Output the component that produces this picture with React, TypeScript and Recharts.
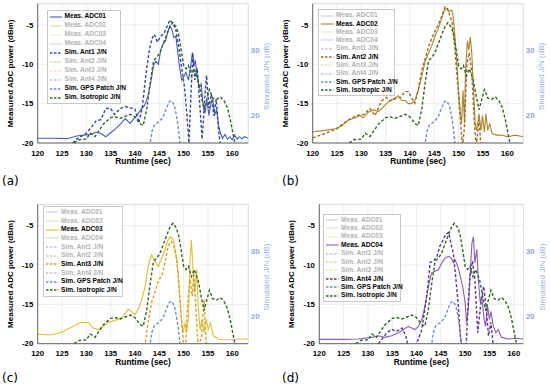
import React from 'react';
import { ComposedChart, Line, XAxis, YAxis, CartesianGrid, ReferenceLine } from 'recharts';

type Pt = [number, number];

// runtime (sec) ticks and axis ticks
const runtimeTicks = [120, 125, 130, 135, 140, 145, 150, 155, 160];
const powerTicks = [-20, -15, -10, -5];
const jnTicks = [20, 30];

// measured ADC power (dBm), [runtime, value]
const adc01: Pt[] = [
    [120, -19.4], [123, -19.4], [126, -19.45], [127, -19.3], [128, -19.1], [129.5, -19.0], [131, -18.9],
    [132, -18.6], [133, -18.8], [134, -19.2], [135, -18.7], [136, -18.2], [137, -17.6], [138, -16.9],
    [139, -17.5], [139.8, -16.9], [140.5, -16.4], [141.2, -15.8], [142, -15.2], [142.6, -14.2], [143.2, -12.5],
    [143.8, -10.2], [144.3, -9.6], [144.8, -10], [145.3, -8.2], [145.8, -7.4], [146.3, -7], [146.8, -5.8],
    [147.2, -5.1], [147.6, -5.6], [148, -6.6], [148.4, -6.4], [148.8, -8.5], [149.2, -10.5], [149.6, -12],
    [150, -11.6], [150.5, -11], [151, -12], [151.4, -10.5], [151.8, -8.5], [152.1, -10.2], [152.4, -9.5],
    [152.8, -11.5], [153.2, -13], [153.6, -12.5], [154, -15], [154.4, -16.2], [154.8, -14.6], [155.2, -16.5],
    [155.6, -15], [156, -14.5], [156.4, -16.4], [156.8, -15.8], [157.2, -17.8], [157.6, -18.8], [158, -19.4],
    [158.5, -18.9], [159, -19.5], [159.5, -19.2], [160, -19.6], [160.5, -19.0], [161, -19.5], [161.5, -19.2],
    [162, -19.5], [162.5, -19.2], [163.3, -19.4],
];
const adc02: Pt[] = [
    [120, -18.6], [122.5, -18.4], [124.6, -18.2], [126, -17.8], [127.3, -17.1], [128.7, -16.8], [129.7, -16.5],
    [130.4, -16.8], [131.4, -16.1], [132.5, -15.8], [133.5, -16], [134.5, -15.4], [135.5, -14.8], [136.6, -14.4],
    [137.6, -14], [138.3, -14.6], [139, -14.6], [139.7, -15], [140.3, -15], [141, -14.6], [141.7, -13.3],
    [142.4, -11.6], [143.1, -9.7], [143.8, -8.6], [144.5, -7.6], [145.1, -6.5], [145.8, -5.5], [146.5, -4.2],
    [147.1, -3.1], [147.5, -2.9], [148, -3.3], [148.6, -3.1], [148.9, -4], [149.2, -6.1], [149.6, -9.5],
    [149.9, -12.5], [150.3, -15.8], [150.6, -17.5], [150.9, -13.3], [151.2, -17.5], [151.4, -11.2], [151.8, -7],
    [152.1, -8.2], [152.4, -6.5], [152.7, -8.6], [153, -12], [153.4, -17.5], [153.7, -18.4], [154.2, -16.3],
    [154.6, -18.4], [154.9, -16.5], [155.3, -18.6], [155.6, -16.3], [156, -18.4], [156.4, -17.5], [156.9, -18.8],
    [157.8, -19], [158.8, -19], [160.2, -19.2], [161.6, -19], [163.3, -19.2],
];
const adc03: Pt[] = [
    [120, -18.8], [122.5, -18.9], [124.6, -18.6], [126, -18.2], [127.3, -17.8], [128.7, -17.3], [129.7, -17.3],
    [130.4, -17.3], [131.4, -18], [132.5, -18.2], [133.5, -17.8], [134.5, -17.3], [135.5, -17.1], [136.6, -16.9],
    [137.6, -16.5], [138.6, -15.6], [139.3, -15.9], [140, -16.3], [140.7, -15.6], [141.4, -14.4], [142.1, -12.7],
    [142.7, -10.2], [143.4, -8.7], [144.1, -9.5], [144.8, -10.2], [145.5, -9.1], [146.2, -8], [146.8, -6.8],
    [147.3, -6.4], [147.9, -6.8], [148.4, -8.5], [148.9, -11], [149.2, -14], [149.6, -17.3], [149.9, -18.6],
    [150.3, -17.3], [150.6, -18.6], [151, -16.5], [151.3, -9.7], [151.6, -6.8], [152, -11.4], [152.3, -13.5],
    [152.7, -10.6], [153, -15.2], [153.4, -18.2], [153.8, -16.9], [154.2, -18.6], [154.6, -16.9], [155.1, -18.2],
    [155.5, -17.3], [156.1, -19], [157.1, -19.4], [158.2, -19.5], [160, -19.5], [161.5, -19.4], [163.3, -19.4],
];
const adc04: Pt[] = [
    [120, -19.45], [124.6, -19.45], [128, -19.4], [130.8, -19.2], [132.1, -19], [133.5, -19.2], [134.9, -19],
    [136.3, -18.6], [137.3, -18.2], [138.3, -17.8], [139, -18], [139.7, -18.2], [140.4, -17.8], [141.1, -16.9],
    [141.6, -15.6], [142.1, -14], [142.6, -12.3], [143.1, -11], [143.8, -10.8], [144.5, -10.6], [145.2, -9.7],
    [145.9, -9.1], [146.6, -8.9], [147.1, -9.1], [147.6, -9.7], [147.9, -9.3], [148.5, -10.2], [149, -11.4],
    [149.5, -12.8], [150, -14.8], [150.3, -17.3], [150.7, -15.2], [151, -11.4], [151.4, -7.2], [151.7, -6.4],
    [152, -9.7], [152.4, -8], [152.7, -11.8], [153.1, -14.8], [153.4, -14], [153.9, -16.9], [154.2, -17.8],
    [154.6, -15.2], [155, -16.9], [155.3, -15.9], [155.8, -17.8], [156.3, -18.6], [156.8, -18.2], [157.5, -19.2],
    [158.9, -19.4], [160.3, -19.3], [162, -19.4],
];

// simulated J/N (dB), [runtime, value]
const simAnt1: Pt[] = [
    [126.5, 15.2], [128, 16.4], [130, 17.3], [131, 18.2], [132, 19.2], [133, 19.4], [134, 21.1], [135, 21.1],
    [135.8, 20.2], [137, 21.1], [138, 21.4], [139, 21.2], [140, 21.0], [140.8, 18.9], [141.5, 21.2], [142.3, 26.7],
    [143, 30.3], [143.6, 32.0], [144, 32.5], [144.6, 31.3], [145.2, 32.1], [146, 32.7], [146.6, 33.7], [147.2, 34.7],
    [147.8, 34.2], [148.4, 33.2], [149, 30.6], [149.6, 27.3], [150.2, 24.3], [150.7, 20.0], [151.1, 15.8],
    [151.5, 23.1], [151.9, 29.6], [152.3, 25.5], [152.8, 27.3], [153.3, 21.9], [153.8, 16.4], [154.3, 21.9],
    [154.7, 26.2], [155.2, 21.2], [155.7, 23.3], [156.2, 20.0], [156.7, 22.5], [157.2, 17.6], [157.6, 15.2],
];
const simAnt2: Pt[] = [
    [120, 16.6], [122, 17.1], [125, 18.0], [127, 19.2], [129, 20.0], [130.5, 20.2], [131.8, 21.1], [132.8, 20.0],
    [134.2, 22.3], [135.2, 22.8], [135.9, 22.3], [137, 22.6], [138, 22.8], [139, 23.7], [139.7, 23.7], [140.3, 22.8],
    [141, 21.9], [141.7, 23.9], [142.4, 26.9], [143.1, 28.7], [143.8, 30.6], [144.5, 31.9], [145.1, 32.9],
    [145.8, 33.95], [146.5, 35.2], [147.2, 36.7], [147.7, 36.5], [148.2, 35.4], [148.7, 34.2], [149.2, 30.6],
    [149.8, 24.9], [150.3, 19.8], [150.8, 15.2], [151.2, 18.2], [151.7, 27.9], [152.2, 29.7], [152.7, 26.7],
    [153.2, 19.4], [153.6, 15.2], [154.2, 19.4], [154.6, 15.2],
];
const simAnt3: Pt[] = [
    [142, 15.2], [142.7, 19.1], [143.4, 22.1], [144.1, 23.7], [144.8, 25.5], [145.5, 26.2], [146.2, 28.3],
    [146.8, 30.8], [147.5, 31.5], [148, 30.8], [148.6, 28.7], [149.1, 24.1], [149.6, 19.1], [150, 15.2],
    [150.4, 15.2], [150.8, 21.6], [151.3, 25.7], [151.8, 23.1], [152.1, 26.7], [152.5, 21.6], [153, 15.2],
    [153.7, 17.0], [154.2, 22.6], [154.7, 15.2],
];
const simAnt4: Pt[] = [
    [131.5, 15.2], [132.8, 16.4], [133.9, 17.5], [134.9, 18.0], [135.9, 17.7], [137, 18.2], [137.8, 17.0],
    [138.3, 15.2], [139.7, 15.2], [141.1, 18.0], [141.8, 21.6], [142.4, 25.1], [142.8, 28.3], [143.5, 28.5],
    [144.2, 29.2], [144.8, 30.8], [145.5, 31.8], [146, 32.6], [146.6, 32.9], [147, 31.5], [147.6, 29.5],
    [148.1, 25.7], [148.6, 21.6], [149, 17.0], [149.3, 15.2], [150.2, 15.2], [150.6, 21.9], [151, 26.2],
    [151.5, 28.5], [152, 25.7], [152.6, 17.5], [153.2, 21.9], [153.8, 24.6], [154.3, 21.6], [154.8, 17.0],
    [155.3, 19.1], [155.8, 15.2],
];
const simGps: Pt[] = [
    [143, 15.2], [143.5, 17.6], [144, 18.6], [145, 19.1], [145.8, 19.8], [146.4, 21.0], [147, 22.1],
    [147.5, 22.3], [148.1, 21.6], [148.6, 19.7], [149, 17.6], [149.3, 15.2],
];
const simIso: Pt[] = [
    [127.5, 15.8], [128.5, 16.3], [130, 16.4], [130.8, 17.3], [131.8, 16.8], [132.5, 17.6], [133.5, 18.7],
    [135, 19.7], [136, 19.8], [137, 19.6], [138, 19.9], [139, 20.2], [140, 19.8], [141, 18.8], [141.7, 18.5],
    [142.4, 20.9], [143.1, 24.9], [143.8, 28.4], [144.5, 29.0], [145.1, 29.6], [145.8, 31.0], [146.5, 32.4],
    [147.2, 33.7], [147.8, 34.3], [148.5, 33.6], [149, 32.4], [149.5, 30.1], [150, 27.7], [150.5, 27.2],
    [151, 27.7], [151.6, 26.1], [152.2, 27.2], [153, 25.5], [153.6, 23.1], [154.2, 20.9], [154.8, 22.6],
    [155.3, 24.0], [156, 22.7], [156.8, 22.5], [157.5, 22.9], [158.3, 22.3], [159, 21.2], [159.6, 19.4],
    [160.2, 17.1], [160.6, 15.6],
];

const pts = (arr: Pt[]) => arr.map(([t, v]) => ({ t, v }));

const series = [
    { key: 'adc01', name: 'Meas. ADC01', data: adc01, color: '#4a5cc0', dashed: false, axis: 'left' },
    { key: 'adc02', name: 'Meas. ADC02', data: adc02, color: '#b0832b', dashed: false, axis: 'left' },
    { key: 'adc03', name: 'Meas. ADC03', data: adc03, color: '#e2c02a', dashed: false, axis: 'left' },
    { key: 'adc04', name: 'Meas. ADC04', data: adc04, color: '#8c5bbf', dashed: false, axis: 'left' },
    { key: 'ant1', name: 'Sim. Ant1 J/N', data: simAnt1, color: '#3546a8', dashed: true, axis: 'right' },
    { key: 'ant2', name: 'Sim. Ant2 J/N', data: simAnt2, color: '#9c6e1e', dashed: true, axis: 'right' },
    { key: 'ant3', name: 'Sim. Ant3 J/N', data: simAnt3, color: '#e0a020', dashed: true, axis: 'right' },
    { key: 'ant4', name: 'Sim. Ant4 J/N', data: simAnt4, color: '#5e3596', dashed: true, axis: 'right' },
    { key: 'gps', name: 'Sim. GPS Patch J/N', data: simGps, color: '#6b8fcf', dashed: true, axis: 'right' },
    { key: 'iso', name: 'Sim. Isotropic J/N', data: simIso, color: '#2e6a1e', dashed: true, axis: 'right' },
];

const panels = [
    { tag: '(a)', x: 0, y: 0, active: ['adc01', 'ant1', 'gps', 'iso'], left: 37.7, top: 3.7, xh: 53, right: 26.7, xMax: 163.3,
        legend: { left: 46.7, top: 10, width: 74, row: 9 } },
    { tag: '(b)', x: 275, y: 0, active: ['adc02', 'ant2', 'gps', 'iso'], left: 37.7, top: 3.7, xh: 53, right: 26.7, xMax: 163.3,
        legend: { left: 43.3, top: 9.4, width: 77, row: 8.3 } },
    { tag: '(c)', x: 0, y: 196, active: ['adc03', 'ant3', 'gps', 'iso'], left: 37.7, top: 8.4, xh: 48.3, right: 26.7, xMax: 163.3,
        legend: { left: 43.3, top: 9.9, width: 80, row: 8.7 } },
    { tag: '(d)', x: 275, y: 196, active: ['adc04', 'ant4', 'gps', 'iso'], left: 44.3, top: 8.4, xh: 48.3, right: 26.5, xMax: 162,
        legend: { left: 48.3, top: 17.6, width: 78, row: 8.45 } },
];

const FONT = 'Arial, "Liberation Sans", sans-serif';
const tickStyle = { fill: '#000', fontSize: 7.8, fontWeight: 'bold', fontFamily: FONT };
const jnColor = '#8ea4e6';

const LegendBox = ({ active, box }: any) => (
    <div style={{
        position: 'absolute', left: box.left, top: box.top, width: box.width, boxSizing: 'border-box',
        border: '1px solid #c8c8c8', background: '#fff', padding: '1px 2px',
    }}>
        {series.map(s => {
            const on = active.includes(s.key);
            return (
                <div key={s.key} style={{ display: 'flex', alignItems: 'center', height: box.row }}>
                    <svg width={12.5} height={4} style={{ flex: 'none' }}>
                        <line x1={0} y1={2} x2={12.5} y2={2} stroke={s.color} strokeOpacity={on ? 1 : 0.3}
                            strokeWidth={s.dashed ? 1.4 : 1.1} strokeDasharray={s.dashed ? '2.5 1.5' : undefined} />
                    </svg>
                    <span style={{
                        marginLeft: 2.3, fontFamily: FONT, fontSize: 6.6, fontWeight: 'bold', lineHeight: 1,
                        color: on ? '#000' : '#b3b3b3', whiteSpace: 'nowrap',
                    }}>{s.name}</span>
                </div>
            );
        })}
    </div>
);

const Panel = ({ p }: any) => (
    <div style={{ position: 'absolute', left: p.x, top: p.y, width: 275, height: 196 }}>
        <ComposedChart width={275} height={196} margin={{ top: p.top, right: 0, bottom: 0, left: 0 }}>
            <CartesianGrid yAxisId="left" stroke="#e8e8e8" strokeWidth={0.8} />
            <XAxis dataKey="t" type="number" domain={[120, p.xMax]} ticks={runtimeTicks} interval={0}
                allowDataOverflow height={p.xh} tickSize={0} tickMargin={7}
                axisLine={{ stroke: '#404040', strokeWidth: 0.8 }} tick={tickStyle}
                label={{ value: 'Runtime (sec)', position: 'center', dy: 18.5 - p.xh / 2,
                    style: { fill: '#000', fontSize: 8.4, fontWeight: 'bold', fontFamily: FONT } }} />
            <YAxis yAxisId="left" orientation="left" type="number" width={p.left} domain={[-20, -2.3]}
                ticks={powerTicks} interval={0} allowDataOverflow tickSize={0} tickMargin={4.4}
                axisLine={{ stroke: '#404040', strokeWidth: 0.8 }} tick={tickStyle}
                label={{ value: 'Measured ADC power (dBm)', angle: -90, position: 'center', dx: p.left - 27.7 - p.left / 2,
                    style: { fill: '#000', fontSize: 8, fontWeight: 'bold', fontFamily: FONT } }} />
            <YAxis yAxisId="right" orientation="right" type="number" width={p.right} domain={[15.8, 37.2]}
                ticks={jnTicks} interval={0} allowDataOverflow tickSize={0} tickMargin={2.5}
                axisLine={{ stroke: '#d3dcf3', strokeWidth: 0.8 }}
                tick={{ fill: jnColor, fontSize: 7.8, fontWeight: 'bold', fontFamily: FONT }}
                label={{ value: 'Simulated J/N (dB)', angle: -90, position: 'center', dx: 5, dy: 3,
                    style: { fill: '#93b3ea', fontSize: 8, fontFamily: FONT } }} />
            <ReferenceLine yAxisId="left" y={-2.3} stroke="#d6d6d6" strokeWidth={0.8} />
            {series.filter(s => p.active.includes(s.key)).map(s => (
                <Line key={s.key} yAxisId={s.axis} data={pts(s.data)} dataKey="v" type="linear"
                    stroke={s.color} strokeWidth={s.dashed ? 1.4 : 1.1}
                    strokeDasharray={s.dashed ? '3 2' : undefined}
                    dot={false} activeDot={false} isAnimationActive={false} />
            ))}
        </ComposedChart>
        <LegendBox active={p.active} box={p.legend} />
        <div style={{
            position: 'absolute', left: p.x === 0 ? 2 : 7, top: 174 + (p.y === 0 ? 0 : 1), fontSize: 12, lineHeight: '14px',
            fontFamily: '"DejaVu Sans", sans-serif', color: '#000',
        }}>{p.tag}</div>
    </div>
);

export default function App() {
    return (
        <div style={{ position: 'absolute', left: 0, top: 0, width: 550, height: 392, background: '#fff' }}>
            {panels.map(p => <Panel key={p.tag} p={p} />)}
        </div>
    );
}
